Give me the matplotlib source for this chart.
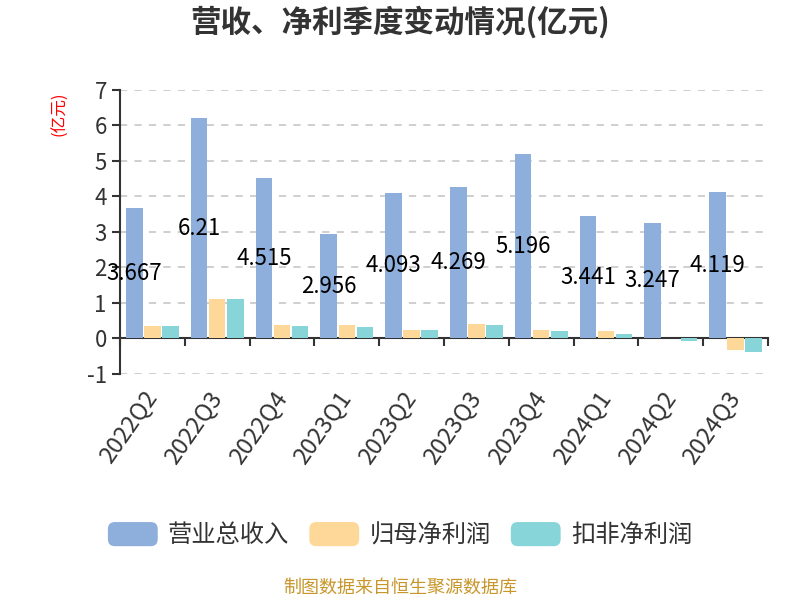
import numpy as np
import matplotlib
matplotlib.use("Agg")
import matplotlib.pyplot as plt
from matplotlib.patches import FancyBboxPatch
from matplotlib.legend_handler import HandlerPatch

plt.rcParams['font.family'] = ['Noto Sans CJK SC', 'DejaVu Sans']
plt.rcParams['axes.unicode_minus'] = False

quarters = ["2022Q2", "2022Q3", "2022Q4", "2023Q1", "2023Q2",
            "2023Q3", "2023Q4", "2024Q1", "2024Q2", "2024Q3"]
revenue = [3.667, 6.21, 4.515, 2.956, 4.093, 4.269, 5.196, 3.441, 3.247, 4.119]
net_profit = [0.34, 1.10, 0.37, 0.38, 0.25, 0.40, 0.24, 0.20, 0.01, -0.33]
net_profit_deducted = [0.34, 1.10, 0.35, 0.32, 0.24, 0.38, 0.20, 0.12, -0.07, -0.37]
series_names = ["营业总收入", "归母净利润", "扣非净利润"]
colors = ["#8eaedb", "#fed898", "#87d5d8"]


class RoundHandler(HandlerPatch):
    # rounded legend keys like the original
    def create_artists(self, legend, orig_handle, xdescent, ydescent,
                       width, height, fontsize, trans):
        fc = orig_handle.patches[0].get_facecolor()
        p = FancyBboxPatch((-xdescent, -ydescent), width, height,
                           boxstyle="round,pad=0,rounding_size=5",
                           facecolor=fc, edgecolor="none", transform=trans)
        return [p]


fig = plt.figure(figsize=(8, 6), dpi=100)
ax = fig.add_axes([0.15, 0.3767, 0.81, 0.4733])

x = np.arange(len(quarters))
w = 0.255
step = 0.28
b1 = ax.bar(x - step, revenue, w, color=colors[0], label=series_names[0], zorder=3)
b2 = ax.bar(x, net_profit, w, color=colors[1], label=series_names[1], zorder=3)
b3 = ax.bar(x + step, net_profit_deducted, w, color=colors[2], label=series_names[2], zorder=3)

for xi, v in zip(x, revenue):
    ax.text(xi - step, v / 2, f"{v:g}", ha="center", va="center",
            fontsize=16, color="black", zorder=5)

ax.set_xlim(-0.5, len(quarters) - 0.5)
ax.set_ylim(-1, 7)
ax.set_yticks(range(-1, 8))
ax.tick_params(axis="y", labelsize=16, labelcolor="#333333", length=6,
               width=1.5, color="#333333")
ax.yaxis.grid(True, linestyle=(0, (4, 4)), color="#cccccc", linewidth=1.3, zorder=0)
ax.set_axisbelow(True)

for s in ["top", "right"]:
    ax.spines[s].set_visible(False)
ax.spines["left"].set_color("#333333")
ax.spines["left"].set_linewidth(1.5)
ax.spines["bottom"].set_position(("data", 0))
ax.spines["bottom"].set_color("#333333")
ax.spines["bottom"].set_linewidth(1.5)
ax.set_xticks(np.arange(-0.5, len(quarters), 1))
ax.set_xticklabels([])
ax.tick_params(axis="x", length=6, width=1.5, color="#333333")

sec = ax.secondary_xaxis("bottom")
sec.set_xticks(x)
sec.set_xticklabels(quarters, rotation=55, ha="right", va="center",
                    rotation_mode="anchor", fontsize=17, color="#333333")
sec.tick_params(length=0, pad=14)
sec.spines["bottom"].set_visible(False)

fig.text(0.5, 0.962, "营收、净利季度变动情况(亿元)", ha="center", va="center",
         fontsize=22, fontweight="bold", color="#333333")
fig.text(0.075, 0.81, "(亿元)", ha="center", va="center", rotation=90,
         fontsize=12, color="red")

fig.legend(handles=[b1, b2, b3], labels=series_names, loc="center",
           bbox_to_anchor=(0.5, 0.108), ncol=3, frameon=False, fontsize=17.5,
           handlelength=2.05, handleheight=1.15, handletextpad=0.42,
           columnspacing=0.83, labelcolor="#333333",
           handler_map={type(b1): RoundHandler()})

fig.text(0.5, 0.02, "制图数据来自恒生聚源数据库", ha="center", va="center",
         fontsize=13, color="#c8962a")

fig.savefig("out.png", dpi=100)
